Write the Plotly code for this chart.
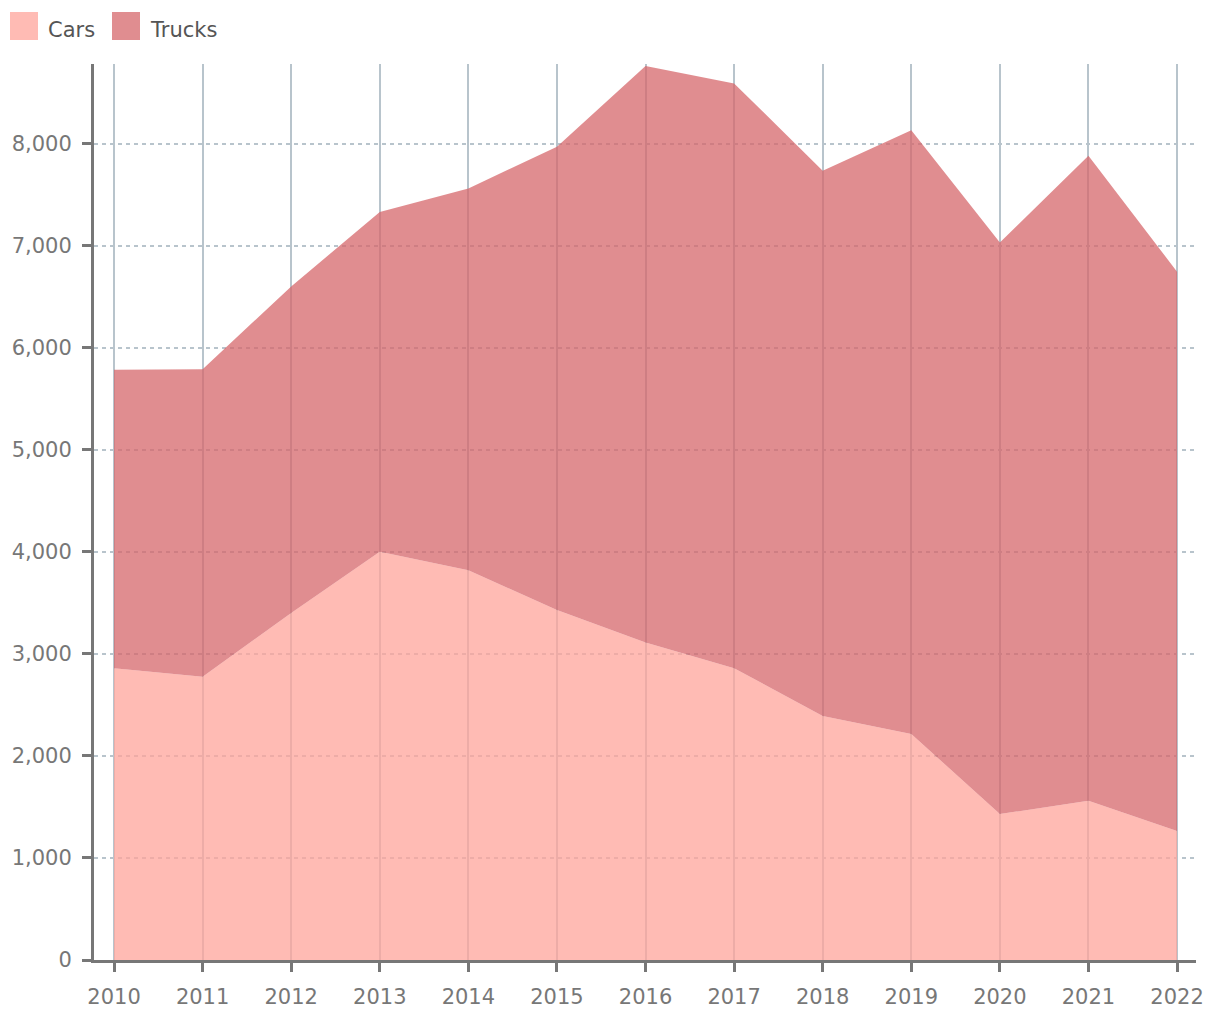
import plotly.graph_objects as go

years = [2010, 2011, 2012, 2013, 2014, 2015, 2016, 2017, 2018, 2019, 2020, 2021, 2022]
cars = [2860, 2775, 3400, 4000, 3820, 3430, 3110, 2860, 2390, 2215, 1430, 1560, 1265]
totals = [5785, 5790, 6600, 7330, 7560, 7970, 8760, 8590, 7735, 8130, 7030, 7880, 6745]
trucks = [t - c for t, c in zip(totals, cars)]

series_names = ["Cars", "Trucks"]
fills = ["rgba(255,164,155,0.75)", "rgba(214,103,107,0.75)"]
swatches = ["#ffbbb4", "#e08d90"]

fig = go.Figure()
fig.add_trace(go.Scatter(x=years, y=cars, name=series_names[0], stackgroup="one", mode="none",
                         fillcolor=fills[0], showlegend=False))
fig.add_trace(go.Scatter(x=years, y=trucks, name=series_names[1], stackgroup="one", mode="none",
                         fillcolor=fills[1], showlegend=False))

# Legend drawn in paper coordinates (plot area: x 94..1196 px, y 64..960 px)
W, H = 1102.0, 896.0
def px(x):
    return (x - 94) / W
def py(y):
    return (960 - y) / H

legend_items = [(10, 46), (112, 148)]
for (sx, tx), name, col in zip(legend_items, series_names, swatches):
    fig.add_shape(type="rect", xref="paper", yref="paper",
                  x0=px(sx), x1=px(sx + 28), y0=py(40), y1=py(12),
                  fillcolor=col, line=dict(width=0))
    fig.add_annotation(xref="paper", yref="paper", x=px(tx), y=py(30),
                       text=name, showarrow=False, xanchor="left", yanchor="middle",
                       font=dict(family="DejaVu Sans", size=21, color="#555555"))

fig.update_layout(
    width=1220, height=1020,
    margin=dict(l=94, r=24, t=64, b=60, autoexpand=False),
    plot_bgcolor="white", paper_bgcolor="white",
    font=dict(family="DejaVu Sans", size=21, color="#777777"),
    showlegend=False,
    xaxis=dict(range=[2009.774, 2022.214], tickvals=years, ticktext=[str(y) for y in years],
               showgrid=True, gridcolor="#b8c4cc", gridwidth=1.5,
               showline=True, linecolor="#777777", linewidth=3,
               ticks="outside", ticklen=9, tickwidth=3, tickcolor="#777777",
               ticklabelstandoff=7,
               zeroline=False, layer="above traces"),
    yaxis=dict(range=[0, 8780], tickvals=list(range(0, 9000, 1000)),
               tickformat=",d", showgrid=True, gridcolor="#b8c4cc", gridwidth=1.5,
               griddash="4px,4px", showline=True, linecolor="#777777", linewidth=3,
               ticks="outside", ticklen=9, tickwidth=3, tickcolor="#777777",
               ticklabelstandoff=6,
               zeroline=False, layer="above traces"),
)

fig.write_html("out.html")
